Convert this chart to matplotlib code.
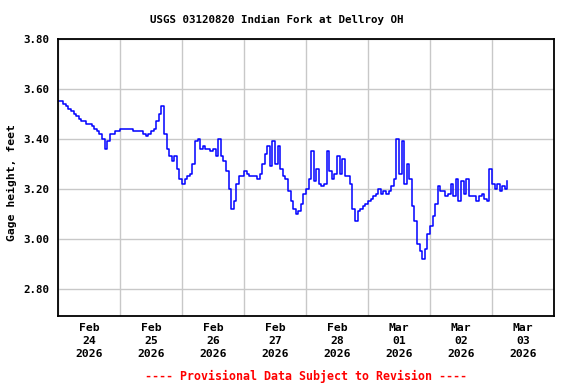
import numpy as np
import pandas as pd
import matplotlib
matplotlib.use("Agg")
import matplotlib.pyplot as plt
import matplotlib.dates as mdates

# Gage height (feet), hourly from 2026-02-24 00:00
gage_height = [
    # Feb 24
    3.55, 3.55, 3.54, 3.53, 3.52, 3.51, 3.50, 3.49, 3.48, 3.47, 3.47, 3.46,
    3.46, 3.45, 3.44, 3.43, 3.42, 3.40, 3.36, 3.39, 3.42, 3.42, 3.43, 3.43,
    # Feb 25
    3.44, 3.44, 3.44, 3.44, 3.44, 3.43, 3.43, 3.43, 3.43, 3.42, 3.41, 3.42,
    3.43, 3.44, 3.47, 3.50, 3.53, 3.42, 3.36, 3.33, 3.31, 3.33, 3.28, 3.24,
    # Feb 26
    3.22, 3.24, 3.25, 3.26, 3.30, 3.39, 3.40, 3.36, 3.37, 3.36, 3.36, 3.35,
    3.36, 3.33, 3.40, 3.33, 3.31, 3.27, 3.20, 3.12, 3.15, 3.22, 3.25, 3.25,
    # Feb 27
    3.27, 3.26, 3.25, 3.25, 3.25, 3.24, 3.26, 3.30, 3.34, 3.37, 3.29, 3.39,
    3.30, 3.37, 3.28, 3.25, 3.24, 3.19, 3.15, 3.12, 3.10, 3.11, 3.14, 3.18,
    # Feb 28
    3.20, 3.24, 3.35, 3.23, 3.28, 3.22, 3.21, 3.22, 3.35, 3.27, 3.24, 3.26,
    3.33, 3.26, 3.32, 3.25, 3.25, 3.22, 3.12, 3.07, 3.11, 3.12, 3.13, 3.14,
    # Mar 01
    3.15, 3.16, 3.17, 3.18, 3.20, 3.18, 3.19, 3.18, 3.19, 3.21, 3.24, 3.40,
    3.26, 3.39, 3.22, 3.30, 3.24, 3.13, 3.07, 2.98, 2.95, 2.92, 2.96, 3.02,
    # Mar 02
    3.05, 3.09, 3.14, 3.21, 3.19, 3.19, 3.17, 3.18, 3.22, 3.17, 3.24, 3.15,
    3.23, 3.18, 3.24, 3.17, 3.17, 3.17, 3.15, 3.17, 3.18, 3.16, 3.15, 3.28,
    # Mar 03
    3.22, 3.20, 3.22, 3.19, 3.21, 3.20, 3.23,
]
times = pd.date_range("2026-02-24 00:00", periods=len(gage_height), freq="h")

day_labels = ["Feb\n24\n2026", "Feb\n25\n2026", "Feb\n26\n2026", "Feb\n27\n2026",
              "Feb\n28\n2026", "Mar\n01\n2026", "Mar\n02\n2026", "Mar\n03\n2026"]
y_ticks = [2.80, 3.00, 3.20, 3.40, 3.60, 3.80]

mono = "DejaVu Sans Mono"

fig = plt.figure(figsize=(5.76, 3.84), dpi=100)
ax = fig.add_axes([0.1007, 0.177, 0.8611, 0.7214])

ax.plot(times, gage_height, color="#0000ff", lw=1.1, drawstyle="steps-post")

start = pd.Timestamp("2026-02-24")
ax.set_xlim(start, start + pd.Timedelta(days=8))
ax.set_ylim(2.691, 3.80)

# gridlines at midnight, labels at noon
ax.set_xticks(pd.date_range(start, periods=9, freq="D"))
ax.set_xticklabels([])
ax.set_xticks(pd.date_range(start + pd.Timedelta(hours=12), periods=8, freq="D"), minor=True)
ax.set_xticklabels(day_labels, minor=True, family=mono, fontweight="bold", fontsize=8.2,
                   linespacing=1.35)
ax.set_yticks(y_ticks)
ax.set_yticklabels(["%.2f" % v for v in y_ticks], family=mono, fontweight="bold", fontsize=7.8)
ax.tick_params(which="both", length=0)
ax.tick_params(axis="x", which="minor", pad=5)
ax.tick_params(axis="y", pad=6)

ax.grid(True, which="major", color="#c8c8c8", lw=1.0)
ax.set_axisbelow(True)
for s in ax.spines.values():
    s.set_linewidth(1.3)

fig.text(0.48, 1 - 20 / 384, "USGS 03120820 Indian Fork at Dellroy OH", ha="center", va="center",
         family=mono, fontweight="bold", fontsize=7.8)
fig.text(12 / 576, 1 - 183 / 384, "Gage height, feet", rotation=90, ha="center", va="center",
         family=mono, fontweight="bold", fontsize=8.2)
fig.text(0.532, 1 - 376 / 384, "---- Provisional Data Subject to Revision ----", ha="center",
         va="center", color="red", family=mono, fontweight="bold", fontsize=8.4)

fig.savefig("out.png", dpi=100)
